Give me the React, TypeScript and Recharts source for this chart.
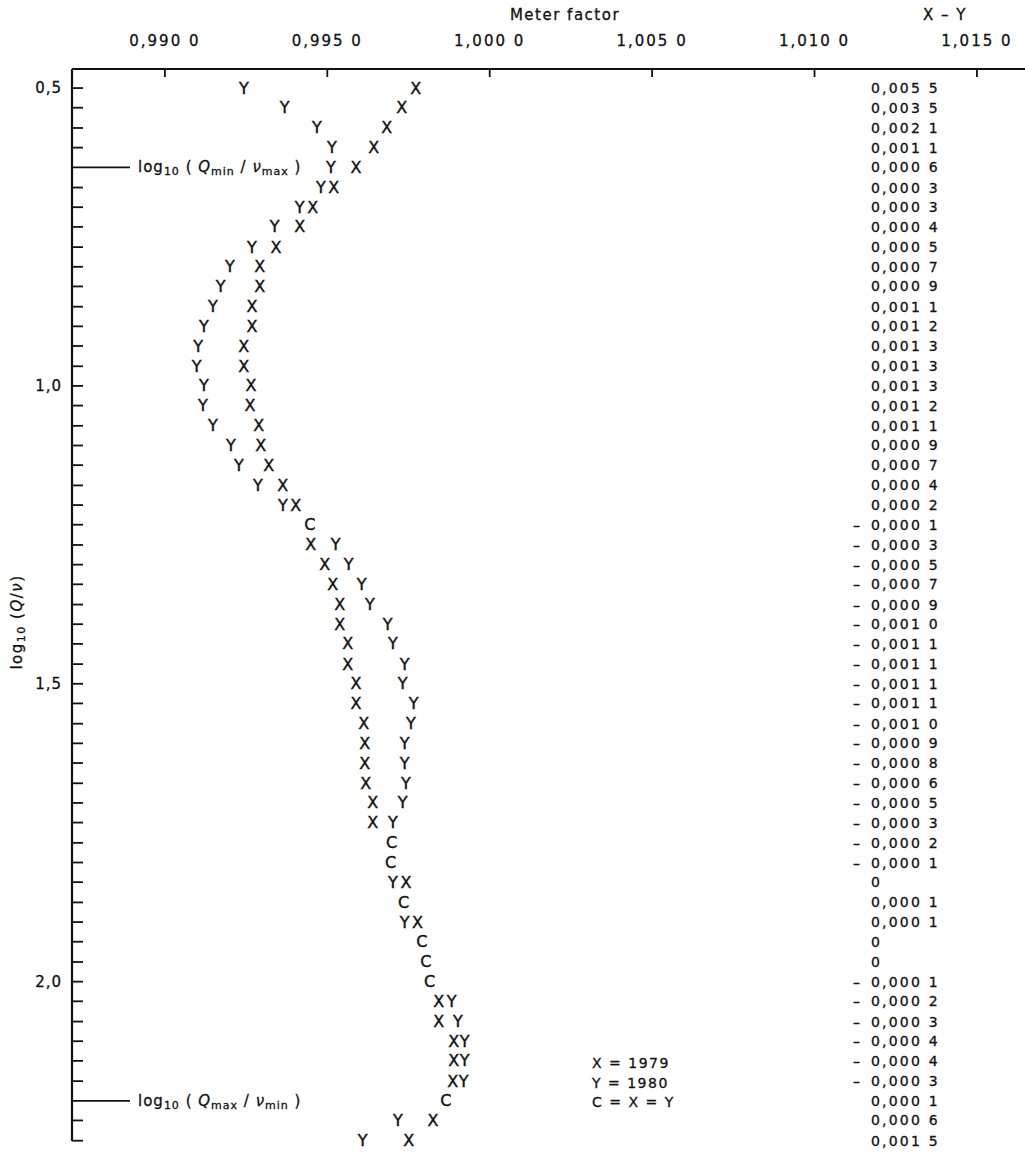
import React from "react";
import { ScatterChart, Scatter, XAxis, YAxis } from "recharts";

const FONT = "'DejaVu Sans', sans-serif";
const INK = "#111";

// log10(Q/v) for each test row, top to bottom
const logQv = [
  0.5, 0.533, 0.567, 0.6, 0.633, 0.667, 0.7, 0.733, 0.767, 0.8, 0.833, 0.867,
  0.9, 0.933, 0.967, 1.0, 1.033, 1.067, 1.1, 1.133, 1.167, 1.2, 1.233, 1.267,
  1.3, 1.333, 1.367, 1.4, 1.433, 1.467, 1.5, 1.533, 1.567, 1.6, 1.633, 1.667,
  1.7, 1.733, 1.767, 1.8, 1.833, 1.867, 1.9, 1.933, 1.967, 2.0, 2.033, 2.067,
  2.1, 2.133, 2.167, 2.2, 2.233, 2.267,
];

// meter factor, 1979 run (X); null where both years coincide
const mf1979 = [
  0.99772, 0.99729, 0.99683, 0.99643, 0.99588, 0.9952, 0.99455, 0.99415,
  0.99342, 0.99292, 0.99292, 0.99268, 0.99268, 0.99243, 0.99243, 0.99265,
  0.99262, 0.99289, 0.99295, 0.9932, 0.99363, 0.99403, null, 0.99449,
  0.99492, 0.99517, 0.99538, 0.99538, 0.99563, 0.99563, 0.99588, 0.99588,
  0.99612, 0.99615, 0.99615, 0.99618, 0.9964, 0.9964, null, null, 0.99742,
  null, 0.99778, null, null, null, 0.99843, 0.99843, 0.99889, 0.99889,
  0.99886, null, 0.99825, 0.99751,
];

// meter factor, 1980 run (Y)
const mf1980 = [
  0.99243, 0.99369, 0.99468, 0.99514, 0.99511, 0.9948, 0.99415, 0.99338,
  0.99268, 0.992, 0.99172, 0.99148, 0.9912, 0.99102, 0.99098, 0.9912,
  0.99117, 0.99148, 0.99203, 0.99228, 0.99286, 0.99363, null, 0.99526,
  0.99566, 0.99606, 0.99631, 0.99686, 0.99702, 0.99738, 0.99732, 0.99766,
  0.99757, 0.99738, 0.99738, 0.99742, 0.99732, 0.99702, null, null, 0.99702,
  null, 0.99738, null, null, null, 0.99883, 0.99902, 0.99923, 0.99923,
  0.9992, null, 0.99717, 0.99609,
];

// rows where X = Y (printed as C)
const mfBoth = [
  null, null, null, null, null, null, null, null, null, null, null, null,
  null, null, null, null, null, null, null, null, null, null, 0.99446, null,
  null, null, null, null, null, null, null, null, null, null, null, null,
  null, null, 0.99698, 0.99695, null, 0.99735, null, 0.99791, 0.99803,
  0.99815, null, null, null, null, null, 0.99865, null, null,
];

// X - Y column
const xMinusY = [
  0.0055, 0.0035, 0.0021, 0.0011, 0.0006, 0.0003, 0.0003, 0.0004, 0.0005,
  0.0007, 0.0009, 0.0011, 0.0012, 0.0013, 0.0013, 0.0013, 0.0012, 0.0011,
  0.0009, 0.0007, 0.0004, 0.0002, -0.0001, -0.0003, -0.0005, -0.0007,
  -0.0009, -0.001, -0.0011, -0.0011, -0.0011, -0.0011, -0.001, -0.0009,
  -0.0008, -0.0006, -0.0005, -0.0003, -0.0002, -0.0001, 0, 0.0001, 0.0001,
  0, 0, -0.0001, -0.0002, -0.0003, -0.0004, -0.0004, -0.0003, 0.0001, 0.0006,
  0.0015,
];

const xTicks = [0.99, 0.995, 1.0, 1.005, 1.01, 1.015];
const xTickLabels = ["0,990 0", "0,995 0", "1,000 0", "1,005 0", "1,010 0", "1,015 0"];
const yMajor = [0.5, 1.0, 1.5, 2.0];
const yMajorLabels = ["0,5", "1,0", "1,5", "2,0"];
const limitRows = [0.633, 2.2];
const limitSubs = [
  ["min", "max"],
  ["max", "min"],
];
const legendLines = ["X = 1979", "Y = 1980", "C = X = Y"];

const pts = (vals: (number | null)[]) =>
  vals
    .map((mf, i) => ({ mf, q: logQv[i] }))
    .filter((d) => d.mf !== null);

const fmtDiff = (v: number) => {
  if (v === 0) return "0";
  const s = Math.abs(v).toFixed(4);
  return "0," + s.slice(2, 5) + " " + s.slice(5);
};

// each reading is printed as its letter, centred on the point
const letterShape = (ch: string) => (props: any) => (
  <text
    x={props.cx}
    y={props.cy}
    textAnchor="middle"
    dominantBaseline="central"
    fontFamily={FONT}
    fontSize={16}
    fill={INK}
    stroke={INK}
    strokeWidth={0.4}
  >
    {ch}
  </text>
);

const XTick = (props: any) => {
  const { x, y, payload } = props;
  const i = xTicks.indexOf(payload.value);
  return (
    <g>
      <line x1={x} x2={x} y1={y} y2={y + 8} stroke={INK} strokeWidth={1.8} />
      <text
        x={x}
        y={y - 28}
        textAnchor="middle"
        dominantBaseline="central"
        fontFamily={FONT}
        fontSize={15}
        letterSpacing={2}
        fill={INK}
        stroke={INK}
        strokeWidth={0.3}
      >
        {xTickLabels[i]}
      </text>
    </g>
  );
};

const YTick = (props: any) => {
  const { x, y, payload } = props;
  const v = payload.value;
  const row = logQv.indexOf(v);
  const mi = yMajor.indexOf(v);
  const li = limitRows.indexOf(v);
  const d = xMinusY[row];
  return (
    <g fontFamily={FONT} fill={INK} stroke={INK} strokeWidth={0.3}>
      <line
        x1={x}
        x2={li >= 0 ? x + 58 : x + 11}
        y1={y}
        y2={y}
        stroke={INK}
        strokeWidth={1.8}
      />
      {mi >= 0 && (
        <text x={x - 10} y={y} textAnchor="end" dominantBaseline="central" fontSize={15} letterSpacing={1}>
          {yMajorLabels[mi]}
        </text>
      )}
      {li >= 0 && (
        <text x={x + 66} y={y + 5} fontSize={15} letterSpacing={1}>
          <tspan>log</tspan>
          <tspan fontSize={11} dy={3}>10</tspan>
          <tspan dy={-3}> ( </tspan>
          <tspan fontStyle="italic">Q</tspan>
          <tspan fontSize={11} dy={3}>{limitSubs[li][0]}</tspan>
          <tspan dy={-3}> / </tspan>
          <tspan fontStyle="italic">ν</tspan>
          <tspan fontSize={11} dy={3}>{limitSubs[li][1]}</tspan>
          <tspan dy={-3}> )</tspan>
        </text>
      )}
      {d !== undefined && (
        <g>
          {d < 0 && (
            <text x={853} y={y} dominantBaseline="central" fontSize={14}>
              –
            </text>
          )}
          <text
            x={871}
            y={y}
            dominantBaseline="central"
            fontSize={14}
            letterSpacing={2.2}
          >
            {fmtDiff(d)}
          </text>
        </g>
      )}
    </g>
  );
};

export default function App() {
  return (
    <div style={{ position: "absolute", left: 0, top: 0, width: 1025, height: 1154, background: "#fff" }}>
      <ScatterChart
        width={1025}
        height={1154}
        margin={{ top: 0, left: 0, right: 0, bottom: 13 }}
      >
        <XAxis
          type="number"
          dataKey="mf"
          orientation="top"
          domain={[0.98714, 1.01648]}
          ticks={xTicks}
          interval={0}
          height={69}
          tickSize={0}
          tickMargin={0}
          tickLine={false}
          tick={<XTick />}
          axisLine={{ stroke: INK, strokeWidth: 2.2 }}
        />
        <YAxis
          type="number"
          dataKey="q"
          reversed
          domain={[0.468, 2.2675]}
          ticks={logQv}
          interval={0}
          width={72}
          tickSize={0}
          tickMargin={0}
          tickLine={false}
          tick={<YTick />}
          axisLine={{ stroke: INK, strokeWidth: 2.2 }}
        />
        <Scatter data={pts(mf1979)} shape={letterShape("X")} isAnimationActive={false} />
        <Scatter data={pts(mf1980)} shape={letterShape("Y")} isAnimationActive={false} />
        <Scatter data={pts(mfBoth)} shape={letterShape("C")} isAnimationActive={false} />
      </ScatterChart>
      <svg
        width={1025}
        height={1154}
        style={{ position: "absolute", left: 0, top: 0, pointerEvents: "none" }}
        fontFamily={FONT}
        fill={INK}
        stroke={INK}
        strokeWidth={0.3}
      >
        <text x={565} y={15} textAnchor="middle" dominantBaseline="central" fontSize={15} letterSpacing={1.5}>
          Meter factor
        </text>
        <text x={945} y={15} textAnchor="middle" dominantBaseline="central" fontSize={15} letterSpacing={1.5}>
          X – Y
        </text>
        <text transform="translate(22,622) rotate(-90)" textAnchor="middle" fontSize={15} letterSpacing={1.5}>
          <tspan>log</tspan>
          <tspan fontSize={11} dy={3}>10</tspan>
          <tspan dy={-3}> (</tspan>
          <tspan fontStyle="italic">Q</tspan>
          <tspan>/</tspan>
          <tspan fontStyle="italic">ν</tspan>
          <tspan>)</tspan>
        </text>
        {legendLines.map((t, i) => (
          <text key={t} x={592} y={1063 + i * 19.5} dominantBaseline="central" fontSize={14} letterSpacing={1.5}>
            {t}
          </text>
        ))}
      </svg>
    </div>
  );
}
